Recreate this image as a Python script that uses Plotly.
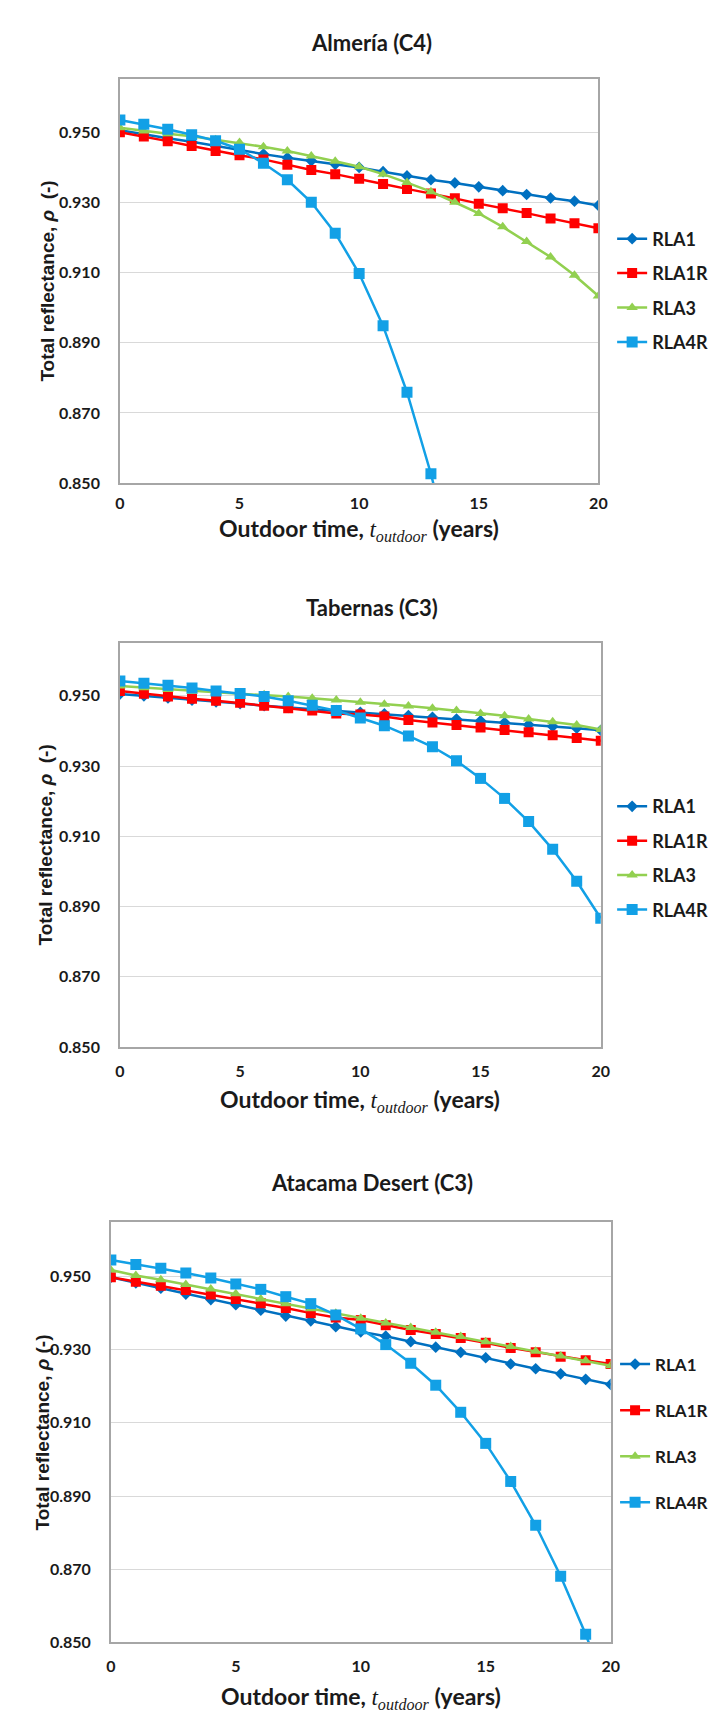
import plotly.graph_objects as go

W, H = 721, 1714

years = list(range(0, 21))

series_names = ["RLA1", "RLA1R", "RLA3", "RLA4R"]
series_colors = ["#0070C0", "#FF0000", "#92D050", "#12A0E6"]
series_symbols = ["diamond", "square", "triangle-up", "square"]
series_sizes = [9, 10, 10, 11]

# ---- Almería (C4)
almeria_rla1 = [0.9505, 0.9493, 0.9482, 0.9472, 0.9460, 0.9448, 0.9437, 0.9427, 0.9418, 0.9408,
                0.9399, 0.9387, 0.9375, 0.9364, 0.9355, 0.9344, 0.9333, 0.9322, 0.9312, 0.9303, 0.9291]
almeria_rla1r = [0.9499, 0.9487, 0.9474, 0.9460, 0.9446, 0.9434, 0.9422, 0.9407, 0.9392, 0.9380,
                 0.9367, 0.9352, 0.9338, 0.9325, 0.9311, 0.9296, 0.9283, 0.9269, 0.9254, 0.9240, 0.9226]
almeria_rla3 = [0.9512, 0.9503, 0.9495, 0.9488, 0.9478, 0.9470, 0.9458, 0.9446, 0.9432, 0.9417,
                0.9401, 0.9380, 0.9356, 0.9330, 0.9300, 0.9268, 0.9230, 0.9188, 0.9144, 0.9092, 0.9033]
almeria_rla4r = [0.9534, 0.9522, 0.9508, 0.9492, 0.9475, 0.9451, 0.9411, 0.9364, 0.9300, 0.9212,
                 0.9097, 0.8948, 0.8759, 0.8527, 0.8250]
almeria_rla4r_years = list(range(0, 15))

# ---- Tabernas (C3)
tabernas_rla1 = [0.9505, 0.9500, 0.9494, 0.9488, 0.9483, 0.9478, 0.9472, 0.9467, 0.9463, 0.9458,
                 0.9453, 0.9449, 0.9444, 0.9439, 0.9434, 0.9429, 0.9424, 0.9418, 0.9413, 0.9408, 0.9402]
tabernas_rla1r = [0.9514, 0.9506, 0.9498, 0.9492, 0.9486, 0.9480, 0.9472, 0.9465, 0.9458, 0.9450,
                  0.9447, 0.9441, 0.9431, 0.9424, 0.9417, 0.9410, 0.9403, 0.9396, 0.9388, 0.9380, 0.9372]
tabernas_rla3 = [0.9528, 0.9523, 0.9518, 0.9513, 0.9510, 0.9506, 0.9503, 0.9498, 0.9493, 0.9488,
                 0.9482, 0.9476, 0.9471, 0.9465, 0.9458, 0.9450, 0.9443, 0.9434, 0.9426, 0.9417, 0.9404]
tabernas_rla4r = [0.9542, 0.9536, 0.9530, 0.9522, 0.9514, 0.9507, 0.9498, 0.9486, 0.9473, 0.9458,
                  0.9437, 0.9415, 0.9386, 0.9355, 0.9315, 0.9265, 0.9208, 0.9142, 0.9063, 0.8972, 0.8867]

# ---- Atacama Desert (C3)
atacama_rla1 = [0.9498, 0.9483, 0.9468, 0.9452, 0.9437, 0.9423, 0.9408, 0.9392, 0.9379, 0.9363,
                0.9349, 0.9337, 0.9322, 0.9307, 0.9293, 0.9278, 0.9261, 0.9248, 0.9234, 0.9219, 0.9205]
atacama_rla1r = [0.9498, 0.9486, 0.9475, 0.9463, 0.9451, 0.9439, 0.9427, 0.9414, 0.9400, 0.9388,
                 0.9381, 0.9367, 0.9354, 0.9343, 0.9332, 0.9319, 0.9305, 0.9293, 0.9281, 0.9271, 0.9261]
atacama_rla3 = [0.9518, 0.9503, 0.9491, 0.9478, 0.9466, 0.9453, 0.9439, 0.9426, 0.9412, 0.9400,
                0.9386, 0.9373, 0.9361, 0.9348, 0.9336, 0.9322, 0.9309, 0.9296, 0.9283, 0.9270, 0.9256]
atacama_rla4r = [0.9545, 0.9533, 0.9523, 0.9510, 0.9496, 0.9480, 0.9465, 0.9445, 0.9426, 0.9395,
                 0.9357, 0.9314, 0.9263, 0.9203, 0.9129, 0.9044, 0.8940, 0.8820, 0.8681, 0.8522, 0.8340]

chart_titles = ["Almería (C4)", "Tabernas (C3)", "Atacama Desert (C3)"]
y_titles = ["Total reflectance, <i>ρ</i>  (-)", "Total reflectance, <i>ρ</i>  (-)",
            "Total reflectance, <i>ρ</i> (-)"]
x_title = ("Outdoor time, <span style='font-family:Liberation Serif;font-weight:normal'><i>t</i>"
           "<sub><i>outdoor</i></sub></span> (years)")

y_tickvals = [0.85, 0.87, 0.89, 0.91, 0.93, 0.95]
y_ticktext = ["0.850", "0.870", "0.890", "0.910", "0.930", "0.950"]
x_tickvals = [0, 5, 10, 15, 20]
y_range = [0.85, 0.965]
x_range = [0, 20]

charts = [
    dict(data=[(years, almeria_rla1), (years, almeria_rla1r), (years, almeria_rla3),
               (almeria_rla4r_years, almeria_rla4r)],
         px_box=(109, 597, 71.7, 477.7), title_y=35, title_x=366, ytitle_x=35, xtitle_y=524,
         xstand=5, legend_x=611, legend_y=284, legend_gap=8, legend_size=18),
    dict(data=[(years, tabernas_rla1), (years, tabernas_rla1r), (years, tabernas_rla3),
               (years, tabernas_rla4r)],
         px_box=(109, 599.4, 638.5, 1044.6), title_y=603, title_x=366, ytitle_x=33, xtitle_y=1098,
         xstand=9, legend_x=611, legend_y=854.6, legend_gap=8, legend_size=18),
    dict(data=[(years, atacama_rla1), (years, atacama_rla1r), (years, atacama_rla3),
               (years, atacama_rla4r)],
         px_box=(99.8, 609.5, 1220.1, 1643.0), title_y=1180.6, title_x=366, ytitle_x=30, xtitle_y=1698,
         xstand=9, legend_x=614, legend_y=1433, legend_gap=21, legend_size=17),
]

FONT = "Lato"
fig = go.Figure()
annotations = []
layout = {}

def px_x(v):
    return v / W

def px_y(v):
    return 1 - v / H

for ci, ch in enumerate(charts):
    sfx = "" if ci == 0 else str(ci + 1)
    leg = "legend" if ci == 0 else "legend" + str(ci + 1)
    for si, (xs, ys) in enumerate(ch["data"]):
        fig.add_trace(go.Scatter(
            x=xs, y=ys, name=series_names[si], mode="lines+markers",
            xaxis="x" + sfx, yaxis="y" + sfx, legend=leg, legendgroup=f"{ci}-{si}",
            line=dict(color=series_colors[si], width=2.5),
            marker=dict(symbol=series_symbols[si], size=series_sizes[si], color=series_colors[si],
                        line=dict(width=0)),
        ))
    l, r, t, b = ch["px_box"]
    layout["xaxis" + sfx] = dict(
        domain=[px_x(l), px_x(r)], range=x_range, anchor="y" + sfx,
        tickvals=x_tickvals, showgrid=False, zeroline=False,
        showline=True, mirror=True, linecolor="#A6A6A6", linewidth=1.5,
        ticks="", ticklabelstandoff=ch["xstand"],
        tickfont=dict(family=FONT, size=16, color="#1a1a1a", weight="bold"),
    )
    layout["yaxis" + sfx] = dict(
        domain=[px_y(b), px_y(t)], range=y_range, anchor="x" + sfx,
        tickvals=y_tickvals, ticktext=y_ticktext, showgrid=True, gridcolor="#D9D9D9", gridwidth=1,
        zeroline=False, showline=True, mirror=True, linecolor="#A6A6A6", linewidth=1.5,
        ticks="", ticklabelstandoff=15,
        tickfont=dict(family=FONT, size=16, color="#1a1a1a", weight="bold"),
    )
    layout[leg] = dict(
        x=px_x(ch["legend_x"]), xanchor="left", y=px_y(ch["legend_y"]), yanchor="middle",
        font=dict(family=FONT, size=ch["legend_size"], color="#1a1a1a", weight="bold"),
        tracegroupgap=ch["legend_gap"], bgcolor="rgba(0,0,0,0)", borderwidth=0,
        itemclick=False,
    )
    annotations.append(dict(
        text=chart_titles[ci], x=px_x(ch["title_x"]), y=px_y(ch["title_y"]),
        xref="paper", yref="paper", showarrow=False, xanchor="center", yanchor="middle",
        font=dict(family=FONT, size=22, color="#1a1a1a", weight="bold"),
    ))
    annotations.append(dict(
        text=y_titles[ci], x=px_x(ch["ytitle_x"]), y=px_y((t + b) / 2), textangle=-90,
        xref="paper", yref="paper", showarrow=False, xanchor="center", yanchor="middle",
        font=dict(family="Liberation Sans", size=19, color="#1a1a1a", weight="bold"),
    ))
    annotations.append(dict(
        text=x_title, x=px_x((l + r) / 2), y=px_y(ch["xtitle_y"]),
        xref="paper", yref="paper", showarrow=False, xanchor="center", yanchor="middle",
        font=dict(family=FONT, size=23, color="#1a1a1a", weight="bold"),
    ))

fig.update_layout(
    width=W, height=H, margin=dict(l=0, r=0, t=0, b=0),
    paper_bgcolor="white", plot_bgcolor="white",
    annotations=annotations, **layout,
)

fig.write_html("out.html")
